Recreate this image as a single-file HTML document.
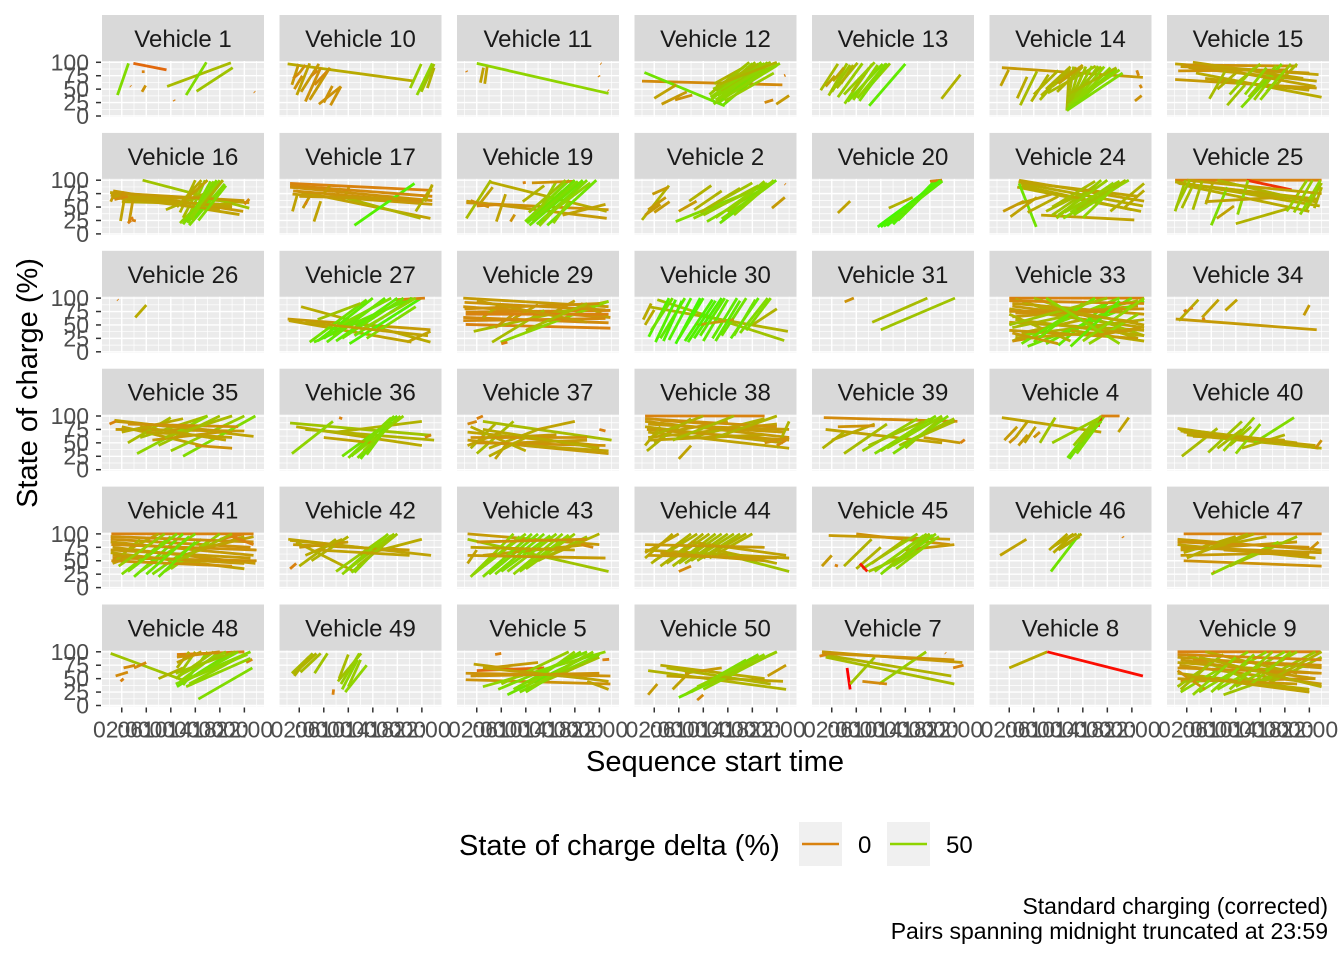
<!DOCTYPE html>
<html><head><meta charset="utf-8"><style>
body{margin:0;background:#fff}
svg{display:block;font-family:"Liberation Sans",Arial,sans-serif}
</style></head><body>
<svg id="chart" width="1344" height="960" viewBox="0 0 1344 960"></svg>
<script>
const vehicles=["1","10","11","12","13","14","15","16","17","19","2","20","24","25","26","27","29","30","31","33","34","35","36","37","38","39","4","40","41","42","43","44","45","46","47","48","49","5","50","7","8","9"];
const xTicks=[2,6,10,14,18,22];
const xTickLabels=["02:00","06:00","10:00","14:00","18:00","22:00"];
const yTicks=[0,25,50,75,100];
const yTickLabels=["0","25","50","75","100"];
// segments per vehicle: [startHour, startSOC, endHour, endSOC, deltaColourValue]
const seg1=[[1.3,39,3.1,98,55],[3.9,98,9.3,86,-10],[9.4,55,19.8,99,35],[12.5,39,15.8,100,55],[14.2,46,20.1,90,40],[5.5,85,5.5,80,0],[5.3,45,5.9,57,10],[23.6,45,23.7,44,0],[3.4,56,3.5,55,0],[10.5,30,10.6,28,0]];
const seg10=[[0.1,97,20.8,65,25],[0.8,58,1.9,97,15],[1.6,39,3.7,98,20],[2.3,45,5.2,97,15],[3,27,5.5,90,10],[3.7,30,7,90,15],[5.2,22,8.8,55,10],[4.5,58,6.6,84,5],[6,25,7.4,56,10],[7.1,20,8.8,55,10],[20.1,52,21.9,97,45],[21.2,39,23.7,98,50],[21.9,45,24,97,40],[22.9,52,24,90,30],[1,70,2,80,5],[2,80,3,95,10],[4,75,5,85,5],[1.2,50,2.5,75,10]];
const seg11=[[2,98,23.5,42,50],[2.6,62,3.1,90,20],[3.3,60,3.7,92,20],[0.3,84,0.4,82,0],[21.9,75,22,73,0],[22.2,98,22.3,97,0],[23.4,48,23.5,47,0]];
const seg12=[[0,65,22.9,58,5],[0.4,81,13.5,19,60],[2,33,5.6,58,20],[3.2,22,7.3,45,15],[5.4,30,8.2,39,10],[11,40,17,95,45],[11.3,30,18,98,50],[11.7,22,19,96,55],[12,25,20.5,100,50],[12.2,45,18.5,100,40],[12.5,55,21,100,35],[12.8,35,21.5,92,45],[13.2,20,20,85,60],[13.5,28,21.5,80,45],[11.8,60,16.5,90,30],[12.4,50,22,95,40],[13,40,22.5,98,50],[20,25,21.4,30,5],[21.9,22,24,38,15],[23.2,75,23.4,76,0],[11.2,35,19.5,100,50],[11.6,50,20,98,45],[12,30,21,90,50],[12.6,25,19.8,92,55],[13,45,21,100,40],[11.5,45,17.5,100,40],[12.3,38,20.8,96,50],[13.3,33,22,94,50],[12.1,55,19,97,35],[12.7,60,22,100,30]];
const seg13=[[0.2,48,3,97,35],[1.5,38,4.5,98,40],[2.8,52,6.2,99,35],[4.1,23,8.6,97,50],[4.6,27,10.3,97,55],[6.2,33,10.8,97,50],[8.1,19,14,97,65],[5.3,45,8.1,90,35],[3.5,60,5.5,95,30],[7,40,11.5,98,45],[19.9,32,23,77,30],[1,55,2.5,75,20],[2,45,5,95,40],[3,35,7,98,45],[4,40,9,100,45],[5.5,30,9.5,95,50],[6.5,28,11,98,55],[2.2,65,4,90,25]];
const seg14=[[0.8,90,23.8,72,15],[0.6,56,1.9,86,20],[3.3,33,4.9,73,25],[3.8,20,6.5,83,35],[5.6,27,8.4,77,30],[7.2,38,11.5,83,30],[8.3,43,16.1,93,35],[11.4,10,11.8,90,30],[11.4,10,13.5,92,40],[11.4,10,15.5,93,45],[11.4,10,17.5,92,50],[11.4,10,19.5,88,55],[11.6,12,20.5,80,55],[11.5,15,14,80,35],[9,55,13,90,25],[9.8,45,14,92,30],[22.5,28,23.6,38,10],[23.3,58,23.6,52,5],[22.8,85,23.1,75,5],[11.4,10,12.5,92,35],[11.4,10,14.5,92,40],[11.4,10,16.5,93,45],[11.4,10,18.5,90,50],[11.5,12,19,85,55],[11.6,20,20,86,50],[11.5,30,17,92,40],[11.5,40,19.5,90,35],[6,40,10,85,30],[7,30,10.5,75,35],[8,50,12,92,30],[10,60,14,95,20]];
const seg15=[[0.1,97,23.5,77,20],[0.1,68,23.2,52,15],[2.3,90,23.2,65,20],[3.5,80,24,35,25],[0.6,84,18.5,86,10],[1.5,95,20,93,10],[5,70,22,48,20],[5.7,32,8.6,90,35],[8.6,20,11.5,58,40],[10.9,16,17.5,97,55],[12.1,35,16.6,94,45],[15,45,19,97,40],[16.6,58,20,97,35],[7,50,10,80,30],[9,40,13,90,45],[13,30,16,75,45],[1,92,22,80,15],[3,100,21,70,20],[6,90,23,55,20],[10,60,14,97,40],[11.5,40,15,90,50],[14,30,18,85,50]];
const seg16=[[0.1,77,22.8,58,20],[0.3,74,21.2,36,20],[0.6,80,21.8,42,15],[5.4,100,22.8,48,40],[1,70,16,65,20],[2,60,20,55,25],[1.8,24,2.6,77,20],[3.2,22,4,75,15],[3.3,28,3.9,30,0],[3.6,26,4.3,24,0],[11.5,20,18.5,100,50],[12.5,22,15.6,100,45],[13,16,18.8,93,55],[13.5,25,17,98,50],[11.5,40,14,100,30],[12,30,15,95,35],[14,30,18,95,60],[9.2,45,15.5,75,30],[22,55,22.8,65,5],[0.2,72,20,50,20],[0.5,68,18,45,20],[1,76,22,62,15],[0.8,64,3,70,5],[12,18,17.5,100,55],[12.8,20,16.5,98,55],[13.2,30,18,100,50],[14.5,25,19,90,55],[11,50,15,100,25],[12,60,16,100,20],[15,50,18.5,100,30],[3,20,3.5,25,0],[0.2,60,1,80,15],[1.5,65,2.5,78,10]];
const seg17=[[0.5,94,23.7,81,0],[0.5,87,23.7,62,10],[0.9,74,23.7,55,15],[1.5,80,23.4,29,20],[7.3,74,21.8,29,30],[11,16,20.8,94,70],[0.9,42,1.7,74,20],[2.6,48,3.6,68,15],[4.4,23,5.5,61,20],[9.1,61,10.1,87,15],[21,42,23.7,90,30],[3,55,3.2,60,0],[6,70,6.1,69,0],[0.5,90,23.7,70,5],[1,80,22,60,10],[2,70,20,65,15],[6,75,7,90,15],[8,70,8.8,85,10],[22.5,60,23.7,92,25]];
const seg19=[[0.3,58,23.5,45,10],[0.3,61,23.2,29,15],[4,97,23.2,42,25],[0.3,29,4.3,100,35],[2.4,55,4.6,87,20],[5.2,23,6.7,74,20],[7.5,23,8.2,36,10],[9.9,23,17.1,100,55],[10.6,16,19.3,100,60],[13.5,16,21.5,100,60],[11,30,16,80,50],[12,40,15,98,45],[14.5,20,17,60,50],[9.5,60,13,90,30],[16,35,23,55,20],[9.5,95,10,96,0],[11,95,18,98,10],[10.2,20,18,100,60],[11,25,18.5,98,55],[11.8,18,19.5,96,60],[12.5,22,20,100,55],[13,30,20.5,95,50],[10.5,40,16.5,100,40],[12.2,15,16,60,50],[1,62,4,50,10],[2,52,6,55,5]];
const seg2=[[0,26,4.4,90,30],[1,45,3.9,68,15],[1.7,74,4.3,87,15],[6,42,8.9,61,15],[5.5,23,21.6,97,55],[8.4,29,20.4,94,50],[10.6,23,21.2,94,55],[7.7,61,11.3,90,30],[12.7,20,21.9,100,60],[11,50,18,95,40],[14,40,20,98,45],[9.5,40,16,85,35],[21.2,48,23.3,68,15],[23.3,93,23.4,92,0],[12,30,20,95,50],[13,28,21,92,55],[15,35,21.5,100,50],[10,35,19,90,45],[0.5,35,3,55,15],[2,40,4.5,60,15],[8.5,45,13,80,30]];
const seg20=[[3,39,5,61,20],[9.5,13,19.9,100,75],[10,13,19.5,100,75],[10.5,14,20,98,70],[11,15,19.2,100,75],[10.2,18,19.6,96,70],[11.5,20,20,100,70],[12,18,18.8,99,70],[11.3,48,15.2,68,30],[12.8,25,19,95,65],[18,98,20,100,0],[9.8,16,19.7,99,75],[10.8,20,19.8,100,70],[11.8,25,20,98,65]];
const seg24=[[3.6,100,24,61,20],[3.9,94,23.8,52,25],[3.3,87,23.5,42,25],[7.2,35,22.4,26,20],[3.6,94,6.4,13,60],[9.7,29,17,100,45],[10.8,29,21.5,100,50],[8,42,13.6,74,35],[9,35,16,90,40],[12,40,19,95,50],[1,42,4.4,61,15],[2.2,32,6.5,68,20],[3.3,55,8.9,74,20],[18.5,42,24,94,30],[20.7,48,24,81,25],[3.5,97,23,70,20],[4,90,22,45,25],[10,35,18,100,45],[11,40,20,98,45],[12.5,35,20,90,50],[13,45,21,100,40],[9,50,16,98,35],[14,30,19,85,50],[5,40,10,70,25]];
const seg25=[[0.1,100,24,100,0],[11.8,100,19.1,82,-30],[0.1,97,23.7,52,25],[0.7,94,23.2,65,20],[1.8,90,22,42,25],[0.1,42,1.8,100,40],[1.2,48,3.4,100,35],[5.1,55,6.2,94,30],[6,16,8.6,87,55],[6.9,29,9.7,52,20],[10,19,18.8,48,30],[10.3,36,12,100,50],[18.3,42,21.6,100,45],[20.5,36,23.8,100,50],[22.8,48,24,87,30],[5,60,20,70,20],[0.5,95,23,60,25],[2,100,24,75,20],[0.3,50,2.5,100,40],[3,45,4.5,98,35],[19.5,40,22.5,100,45],[21.5,45,24,95,40],[7,100,22,60,30]];
const seg26=[[4.2,64,6,87,25],[1.3,97,1.4,96,0]];
const seg27=[[0.1,61,23.4,41,15],[2.3,84,23.4,18,25],[0.3,58,20.3,18,20],[3.7,18,13,97,60],[4.4,18,20.3,100,65],[10.2,15,21.9,100,70],[8,38,19.6,97,60],[13,25,21,84,55],[6,25,15,90,65],[7,40,17,100,55],[19.6,18,23.4,38,20],[5,60,12,90,40],[17.5,97,22.5,100,0],[5,20,14,100,65],[6.5,18,16,100,65],[8,20,18,100,65],[9,25,19,100,60],[11,30,20.5,100,60],[7.5,30,15.5,95,60],[12,40,21,100,50],[3,55,23,30,20]];
const seg29=[[-0.2,100,23.5,84,15],[-0.2,84,23.8,64,10],[0.2,74,23.8,77,5],[-0.2,64,23.5,54,5],[0.2,51,23.8,44,0],[1.5,38,23.5,94,35],[4.5,18,13,77,35],[5.9,18,23.5,94,50],[19,90,23.5,64,20],[3,64,6,90,25],[8,62,12,88,20],[14,70,18,95,20],[5,45,8,70,15],[6,15,7,18,0],[0,92,23,78,10],[0.2,70,23.5,70,0],[-0.2,58,23,62,5],[0,80,22,90,10],[2,95,20,55,15],[10,40,20,90,35]];
const seg30=[[1.1,84,23.8,38,30],[2.5,97,23.2,21,40],[1.1,28,4.4,100,70],[2.2,18,5.5,97,70],[3,25,7,100,65],[4.4,22,8,100,70],[5.5,15,9.5,100,75],[7,20,11.5,97,70],[8.5,25,13,100,70],[10,20,14,97,65],[11.5,25,15.5,100,65],[13,30,17,100,60],[14.5,25,19,100,65],[16,35,20.5,100,55],[0.5,50,2,78,25],[18,50,22,80,30],[9,50,15,60,15],[1.5,40,5,100,60],[3.5,20,6.5,95,70],[6,25,10,100,70],[7.5,18,12,95,70],[9.5,30,13.5,100,65],[12,20,16,95,65],[15,30,18.5,97,60],[17,40,21,100,55],[0.2,60,1.5,90,25]];
const seg31=[[4.1,93,5.6,100,10],[8.6,55,17.6,100,35],[10,41,22.1,100,40]];
const seg33=[[2,100,24,100,0],[2.5,90,24,70,15],[2,80,24,45,20],[2.5,65,23,85,15],[2,55,24,40,20],[2.5,45,23,95,35],[3,30,24,60,30],[2.5,20,20,100,55],[5,10,24,95,60],[8,15,22,100,60],[3,98,23,25,30],[6,100,24,30,35],[10,12,18,90,65],[2,70,12,20,30],[4,35,14,60,25],[12,40,24,20,25],[15,15,23,70,50],[2.5,20,8,30,10],[3,72,20,75,10],[2,95,24,90,5],[2.5,85,23,55,15],[2,75,24,80,10],[3,60,24,30,25],[2,40,23,25,15],[3,25,22,40,20],[4,15,16,100,60],[6,18,14,90,60],[12,10,20,95,65],[14,20,24,100,50],[2,50,18,100,40],[5,90,24,50,20],[8,100,20,15,50],[2.5,35,10,15,15],[16,30,23.5,45,15]];
const seg34=[[0.2,61,23.2,41,15],[0.7,58,3.9,97,25],[4.5,64,7.2,97,20],[8.3,77,10.2,97,20],[21.1,68,22,87,15],[1.5,75,2,78,0],[2.5,80,3,82,0],[4.5,60,5,62,0]];
const seg35=[[0.8,92,23.5,62,20],[1,75,22,72,15],[2,80,15,45,20],[3,50,10,97,35],[5,60,16,100,35],[8,45,18,100,40],[10,35,22,100,45],[12,25,23.8,100,55],[4.5,30,16,100,50],[7,55,18,70,15],[14,45,20,40,10],[0,85,1,90,0],[6,70,20,60,20],[1,90,20,70,15],[2,70,12,95,25],[3,85,21,80,10],[9,60,20,100,35],[5,80,19,55,20]];
const seg36=[[0.5,87,23.5,64,40],[1.5,80,22,45,25],[3,75,24,55,30],[0.8,30,7.5,90,50],[9,25,18,100,60],[10,22,17,97,55],[11,30,19,100,50],[12,20,16,80,60],[6,60,14,50,20],[8,70,22,90,30],[22.5,60,23.5,65,5],[8.5,97,9,95,0],[10.5,25,17.5,100,55],[11.5,22,18,95,55],[12.5,35,18.5,100,50],[13,28,17,90,55]];
const seg37=[[3,90,24,55,35],[0.5,70,22,45,20],[0.5,55,23.5,30,15],[1,80,10,35,25],[1,40,5,85,30],[2,30,8,90,35],[4,40,12,75,25],[6,60,15,65,15],[8,50,20,55,15],[12,75,18,90,20],[0.5,85,2,90,5],[22,75,23,72,0],[2,95,3,100,0],[5,20,7,50,20],[1,60,20,60,10],[2,50,23,45,10],[3,75,22,40,25],[4,25,10,60,25],[10,45,23.5,35,20],[0.5,45,6,70,20]];
const seg38=[[0.5,100,20,100,0],[0.5,90,24,60,15],[0.5,80,23,50,20],[1,70,24,40,20],[1,60,22,85,20],[0.8,35,4,65,30],[2,50,8,95,30],[4,70,14,90,20],[8,60,20,95,30],[10,80,24,75,15],[22,40,24,90,30],[6,20,8,45,20],[3,92,12,85,10],[0.5,95,22,80,10],[1,85,23,70,15],[0.8,75,24,55,15],[1,55,20,65,20],[2,65,10,100,30],[5,55,15,100,35],[12,60,22,100,30],[0.5,45,3,80,25],[20,50,24,60,10],[22,45,23.5,55,5]];
const seg39=[[0.7,97,22.5,90,5],[1,75,20,50,20],[0.5,40,4,70,30],[2,55,9,85,25],[4,30,11,85,35],[7,35,16,95,45],[9,30,19,100,55],[11,40,20,100,50],[13,45,22,95,40],[15,55,22,90,35],[3,80,9,82,10],[17,60,23,50,15],[23,50,23.7,56,0],[10,35,18,95,50],[12,30,21,100,55],[14,40,20,98,45],[8,45,17,90,40]];
const seg4=[[0.8,97,17,70,20],[1.2,55,3.3,80,15],[3,60,5,90,20],[4.5,50,6.3,80,20],[6,60,7,70,10],[7,50,9.5,97,40],[9,50,17.3,100,45],[11.5,22,17,100,60],[12,25,16.5,95,60],[13,30,17.5,100,55],[12.5,45,16,92,45],[16.5,80,17,100,-40],[17,100,20,100,0],[19.8,70,21.5,97,20],[11.8,20,16.8,98,60],[12.3,30,17,90,55],[12.8,35,16,85,55],[13.5,50,17,100,45],[2,50,3,60,10],[3.5,45,5,65,15]];
const seg40=[[0.5,77,23.5,40,20],[1,72,22,45,25],[2,65,24,40,25],[1.2,25,7,77,35],[5.5,32,11,90,40],[8,35,13,97,45],[9,45,12.5,80,40],[10,30,14,85,50],[13,50,19.5,97,55],[11,40,18,65,30],[23,40,24,55,10],[0.8,75,20,50,25],[1.5,70,23,45,20],[3,62,18,55,20],[7,40,11,75,35]];
const seg41=[[0.3,100,23.5,100,0],[0.2,85,23.5,60,15],[0.5,75,23.8,45,15],[0.2,65,22,35,20],[0.5,55,24,50,10],[0.2,90,23,75,10],[2,25,10,95,55],[4,20,12,100,60],[5,30,14,100,55],[7,25,15,90,55],[9,30,16,85,50],[10,35,18,100,45],[1,50,5,90,30],[3,70,8,100,25],[12,60,22,95,25],[0.5,45,4,60,20],[18,90,22,100,0],[0.2,95,23.5,85,10],[0.3,80,24,70,10],[0.2,70,23,55,15],[0.5,60,22,45,15],[0.3,50,20,40,10],[3,30,11,100,55],[6,25,13,95,60],[8,20,14,85,60],[1.5,40,9,100,45],[11,50,20,100,35],[14,70,23.5,95,20],[20,95,23.5,80,0]];
const seg42=[[0.2,90,23.5,60,20],[1,80,20,70,15],[1.5,85,11,30,25],[2,40,8,90,30],[4,50,10,95,30],[8,30,16,95,45],[9,25,17,97,50],[10,35,17.5,100,45],[11,28,15,75,50],[12,60,22,90,25],[0.5,35,1.5,45,0],[0.5,88,16,70,20],[2,75,10,85,15],[3,60,9,90,25],[9.5,30,16.5,100,50],[10.5,28,17,92,50],[11.5,40,18,100,40],[5,70,20,60,20]];
const seg43=[[0.5,100,22,80,15],[0.5,90,23.5,30,40],[1,20,8,100,50],[2,30,10,100,50],[4,25,12,100,55],[6,30,14,97,55],[8,25,16,100,50],[10,35,18,100,45],[12,50,20,95,40],[14,60,22,100,30],[3,60,20,80,20],[0.5,45,2,70,20],[19,80,21,75,5],[1.5,25,9,95,50],[3,20,11,100,55],[5,25,13,100,55],[7,30,15,100,50],[9,30,17,98,50],[0.5,60,23,55,15],[1,75,18,70,20],[2,85,20,90,10]];
const seg44=[[0.5,70,24,55,20],[0.5,55,5,100,25],[1.5,45,8,100,30],[3,40,10,100,30],[5,40,12,100,35],[7,45,14,100,35],[9,50,16,100,35],[11,55,18,100,30],[8,85,23.5,60,20],[14,60,24,30,40],[12,70,22,45,25],[6,30,8,40,5],[0.5,65,6,100,20],[2,50,9,100,30],[4,45,11,100,30],[6,45,13,100,35],[8,50,15,100,35],[10,55,17,100,30],[0.5,80,20,75,15],[1,60,22,55,15],[3,65,20,50,15]];
const seg45=[[1.5,97,21.3,90,15],[6,100,21.3,80,10],[0.4,40,2,60,15],[4,40,8.5,90,30],[6,35,10,75,30],[7,35,16,100,45],[9,30,17,97,50],[10,25,18,100,55],[11,35,19,100,50],[12,40,19.5,95,45],[6.6,45,7.8,30,-40],[8,30,14,60,40],[14,70,22,80,15],[2.5,42,3,40,0],[9.5,35,17.5,100,50],[10.5,30,18.5,98,55],[11.5,40,18,100,45],[12.5,35,19,92,50],[8.5,45,14,90,35]];
const seg46=[[0.5,60,4.8,90,20],[8.5,70,11.5,100,25],[9,75,12.5,100,25],[9.5,80,13,100,25],[10,70,13.5,95,30],[8.8,30,13.5,100,60],[20.5,95,20.6,93,0],[9.2,65,12,95,25],[10.5,75,13.8,100,25]];
const seg47=[[1.5,100,24,100,0],[0.5,90,24,70,15],[0.5,80,23,55,20],[1,70,20,85,15],[1,60,22,65,15],[1.5,50,24,40,10],[1.5,65,10,95,25],[3,60,12,100,30],[6,75,15,95,25],[6,25,17,85,50],[9,40,20,95,40],[22,70,23.5,85,10],[6.3,30,6.5,29,0],[0.5,85,22,75,10],[1,75,24,65,15],[2,55,9,90,25],[4,65,13,100,25],[8,70,22,60,15]];
const seg48=[[0.2,97,12.5,45,40],[1,55,3,62,5],[2.3,70,4.2,75,5],[4,70,6,80,5],[1.8,45,2.3,50,0],[8,50,12,70,30],[10.8,40,23,100,55],[11,35,20,100,60],[11.5,45,18,100,50],[12,38,16,100,55],[11.5,60,14,100,40],[13,40,22,95,50],[14.5,12,23.3,70,55],[11,95,22,100,0],[22.3,80,23.3,86,5],[11,70,13,100,30],[10.8,50,17,100,40],[11,80,15,100,20],[11.2,55,19,100,45],[11.5,40,21,100,55],[12,45,22.5,95,50],[10.8,60,20.5,100,40],[11,90,18,100,10],[12.5,35,23,88,50]];
const seg49=[[0.8,60,4.2,97,35],[1.2,55,3.5,90,30],[2.2,62,5.5,97,35],[4.5,60,6.6,97,40],[8.3,45,12.1,97,40],[9,30,11.5,85,50],[10,35,12,85,45],[9.5,25,13,75,50],[8.5,50,10,95,35],[7.5,20,7.6,30,0],[1,58,4.8,97,30],[8.8,40,11.8,97,45]];
const seg5=[[1.5,77,23.5,45,20],[0.2,60,23.8,55,10],[0.2,48,23.8,40,10],[2,65,13,70,-10],[3,35,23,100,50],[5.5,30,20,100,55],[7,20,21,97,60],[9,25,22,95,55],[10,35,18,100,50],[12,40,22,90,40],[4,70,12,80,15],[20,45,23.5,30,20],[22.5,85,23.6,86,0],[5,95,6,97,0],[8,30,19,100,55],[10,25,20,95,55],[11,35,21,100,50],[6,40,17,100,45],[1,55,22,60,10],[3,70,20,50,20]];
const seg50=[[1,65,23.5,30,30],[3,75,20,50,25],[4,55,23,45,20],[1,20,2.5,40,15],[5,30,8,65,20],[6,15,22,100,60],[8,25,19,95,55],[10,30,21,95,50],[11,40,22,100,45],[20.5,55,23.5,75,15],[7,60,13,70,15],[9,10,10,20,5],[4,70,21,40,30],[7,20,17,85,55],[9,35,20,95,50]];
const seg7=[[0.4,100,23.3,80,15],[0.4,95,21.5,55,30],[1,90,22,40,35],[4.5,70,5,30,-50],[5,40,9,90,40],[9.7,40,17.4,100,45],[7,45,11,40,5],[0,92,1.2,95,0],[20.5,98,20.6,97,0],[21.8,70,23.5,75,0],[0.5,97,22,85,10]];
const seg8=[[2,70,8.2,100,25],[8.2,100,23.8,55,-45]];
const seg9=[[0.5,100,23.8,100,0],[0.5,90,24,70,15],[0.5,80,23.5,60,20],[0.8,75,24,40,15],[0.5,60,22,30,25],[1,45,23,50,10],[0.5,35,8,95,40],[1,25,12,100,50],[4,25,15,100,50],[7,30,18,100,50],[10,35,20,100,45],[13,40,23,100,40],[2,95,14,40,35],[5,100,20,60,25],[8,20,18,60,40],[15,40,24,90,35],[0.5,65,5,30,10],[3,85,24,75,10],[0.5,95,24,85,5],[1,85,23,50,15],[0.5,70,24,60,10],[0.5,50,20,40,15],[1,30,6,80,35],[3,20,10,90,50],[6,25,13,95,50],[9,30,16,100,45],[12,35,19,100,45],[16,50,24,100,30],[2,55,22,25,20],[4,90,24,35,25]];

const segsByVehicle={"1":seg1,"10":seg10,"11":seg11,"12":seg12,"13":seg13,"14":seg14,"15":seg15,"16":seg16,"17":seg17,"19":seg19,"2":seg2,"20":seg20,"24":seg24,"25":seg25,"26":seg26,"27":seg27,"29":seg29,"30":seg30,"31":seg31,"33":seg33,"34":seg34,"35":seg35,"36":seg36,"37":seg37,"38":seg38,"39":seg39,"4":seg4,"40":seg40,"41":seg41,"42":seg42,"43":seg43,"44":seg44,"45":seg45,"46":seg46,"47":seg47,"48":seg48,"49":seg49,"5":seg5,"50":seg50,"7":seg7,"8":seg8,"9":seg9};

const NS="http://www.w3.org/2000/svg";
const svg=document.getElementById('chart');
function mk(tag,attrs,parent){const e=document.createElementNS(NS,tag);for(const k in attrs)e.setAttribute(k,attrs[k]);(parent||svg).appendChild(e);return e;}
const stops=[[-50,[255,0,0]],[0,[217,130,15]],[25,[184,170,0]],[50,[143,212,0]],[80,[51,255,0]]];
function col(d){if(d<=stops[0][0])return 'rgb(255,0,0)';for(let i=1;i<stops.length;i++){if(d<=stops[i][0]){const a=stops[i-1],b=stops[i];const f=(d-a[0])/(b[0]-a[0]);const c=a[1].map((v,j)=>Math.round(v+(b[1][j]-v)*f));return 'rgb('+c.join(',')+')';}}return 'rgb(51,255,0)';}
const COLS=7, colStep=177.5, rowStep=117.9, pw=162, ph=56;
function xS(left,t){return left+7.5+t*6.13;}
function yS(top,s){return top+101-s*0.537;}

vehicles.forEach((v,i)=>{
  const c=i%COLS, r=Math.floor(i/COLS);
  const left=102+c*colStep, top=15+r*rowStep;
  const g=mk('g',{});
  
  
  const st=mk('rect',{x:left,y:top,width:pw,height:46,fill:'#d9d9d9'},g);
  
  
  const stt=mk('text',{x:left+pw/2,y:top+32,'text-anchor':'middle','font-size':24,fill:'#1a1a1a'},g);
  stt.textContent='Vehicle '+v;
  
  
  const ptop=top+46;
  const bg=mk('rect',{x:left,y:ptop,width:pw,height:ph,fill:'#ebebeb'},g);
  
  
  [12.5,37.5,62.5,87.5].forEach(s=>mk('line',{x1:left,x2:left+pw,y1:yS(top,s),y2:yS(top,s),stroke:'#fff','stroke-width':0.7},g));
  [0,4,8,12,16,20,24].forEach(t=>mk('line',{x1:xS(left,t),x2:xS(left,t),y1:ptop,y2:ptop+ph,stroke:'#fff','stroke-width':0.7},g));
  yTicks.forEach(s=>mk('line',{x1:left,x2:left+pw,y1:yS(top,s),y2:yS(top,s),stroke:'#fff','stroke-width':1.4},g));
  xTicks.forEach(t=>mk('line',{x1:xS(left,t),x2:xS(left,t),y1:ptop,y2:ptop+ph,stroke:'#fff','stroke-width':1.4},g));
  segsByVehicle[v].forEach(sg=>{
    const l=mk('line',{x1:xS(left,sg[0]),y1:yS(top,sg[1]),x2:xS(left,sg[2]),y2:yS(top,sg[3]),stroke:col(sg[4]),'stroke-width':2.8,'stroke-linecap':'butt'},g);
    
    
  });
  if(c===0){
    yTicks.forEach((s,k)=>{
      mk('line',{x1:left-6,x2:left-1,y1:yS(top,s),y2:yS(top,s),stroke:'#333','stroke-width':1.5},g);
      const t=mk('text',{x:left-13,y:yS(top,s)+8,'text-anchor':'end','font-size':23,fill:'#4d4d4d'},g);
      t.textContent=yTickLabels[k];
      
      
    });
  }
  if(r===5){
    xTicks.forEach((tv,k)=>{
      mk('line',{x1:xS(left,tv),x2:xS(left,tv),y1:ptop+ph+1,y2:ptop+ph+6,stroke:'#333','stroke-width':1.5},g);
      const t=mk('text',{x:xS(left,tv),y:ptop+ph+31,'text-anchor':'middle','font-size':23,fill:'#4d4d4d'},g);
      t.textContent=xTickLabels[k];
      
      
    });
  }
});
</script>
<script>
(function(){
const svg=document.getElementById('chart');const NS="http://www.w3.org/2000/svg";
function mk(tag,attrs){const e=document.createElementNS(NS,tag);for(const k in attrs)e.setAttribute(k,attrs[k]);svg.appendChild(e);return e;}
let t=mk('text',{x:715,y:771,'text-anchor':'middle','font-size':29,fill:'#000'});t.textContent='Sequence start time';


t=mk('text',{x:0,y:0,'text-anchor':'middle','font-size':29,fill:'#000',transform:'translate(37,383) rotate(-90)'});t.textContent='State of charge (%)';


t=mk('text',{x:459,y:855,'font-size':29,fill:'#000'});t.textContent='State of charge delta (%)';


const keys=[[799,'rgb(217,130,15)','0',858],[887,'rgb(143,212,0)','50',946]];
keys.forEach(k=>{
 const r=mk('rect',{x:k[0],y:822,width:43,height:44,fill:'#f0f0f0'});
 
 
 mk('line',{x1:k[0]+3,x2:k[0]+40,y1:844,y2:844,stroke:k[1],'stroke-width':2.5});
 const l=mk('text',{x:k[3],y:853,'font-size':24,fill:'#000'});l.textContent=k[2];
 
 
});
t=mk('text',{x:1328,y:914,'text-anchor':'end','font-size':23,fill:'#000'});t.textContent='Standard charging (corrected)';


t=mk('text',{x:1328,y:939,'text-anchor':'end','font-size':23,fill:'#000'});t.textContent='Pairs spanning midnight truncated at 23:59';


})();
</script>
</body></html>
